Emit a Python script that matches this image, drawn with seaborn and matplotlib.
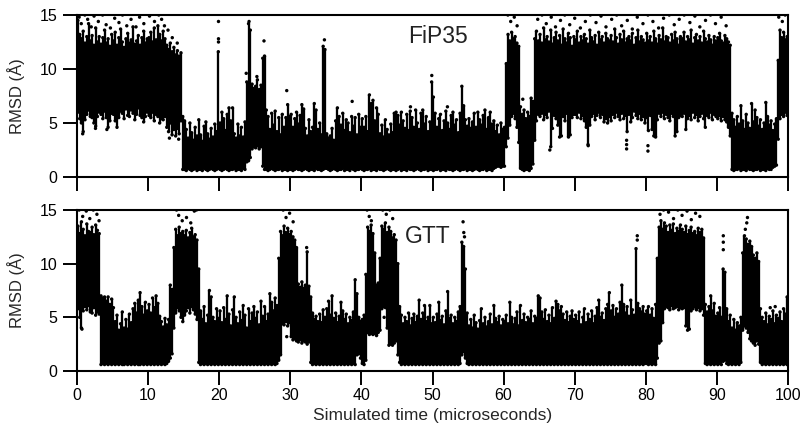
import numpy as np
import pandas as pd
import matplotlib
matplotlib.use("Agg")
import matplotlib.pyplot as plt
import seaborn as sns

# ---------------- data (0.25 us bins) ----------------
BIN_US = 0.25
X_TICKS = [0, 10, 20, 30, 40, 50, 60, 70, 80, 90, 100]
Y_TICKS = [0, 5, 10, 15]
PANEL_LABELS = ["FiP35", "GTT"]

# FiP35: upper and lower envelope of the dense cloud per bin
fip_hi = [
    14.5, 13.2, 12.8, 13.5, 12.4, 13.0, 14.2, 12.6, 13.1, 12.2, 13.8, 12.5, 13.0, 12.3, 12.9, 13.6, 12.4, 12.8, 12.1, 13.2,
    12.6, 13.4, 12.2, 12.9, 13.7, 12.5, 12.0, 12.8, 13.3, 12.4, 12.7, 13.9, 12.3, 12.6, 13.1, 12.2, 12.9, 13.5, 12.4, 12.8,
    12.9, 13.4, 12.5, 13.8, 12.7, 14.0, 13.2, 12.6, 13.5, 12.8, 12.2, 11.8, 12.4, 11.6, 12.0, 11.3, 11.7, 11.2, 11.5, 5.6,
    5.2, 4.4, 3.6, 5.0, 4.1, 3.4, 4.6, 3.8, 5.3, 3.9, 3.3, 4.7, 5.1, 4.0, 3.5, 4.5, 3.7, 4.9, 4.2, 11.6,
    5.0, 6.0, 5.4, 4.3, 5.8, 6.4, 5.2, 6.4, 4.0, 3.6, 4.9, 3.8, 4.6, 3.7, 5.1, 8.8, 14.2, 13.6, 8.6, 8.2,
    8.4, 9.0, 8.1, 8.5, 11.0, 11.2, 6.2, 5.6, 4.4, 5.9, 4.8, 6.1, 4.2, 5.5, 3.9, 5.8, 4.6, 5.5, 6.7, 5.6,
    5.8, 4.6, 5.4, 6.0, 4.9, 5.7, 6.7, 6.3, 4.5, 3.8, 5.3, 4.2, 4.6, 6.8, 6.2, 4.4, 5.0, 3.9, 12.1, 11.8,
    4.0, 3.6, 3.8, 4.5, 3.4, 5.2, 6.4, 5.6, 4.8, 5.9, 4.3, 5.3, 5.0, 4.1, 5.6, 4.7, 5.5, 3.9, 5.8, 4.6,
    5.4, 4.6, 5.6, 4.2, 7.6, 6.8, 7.1, 5.2, 6.4, 5.8, 4.0, 4.8, 3.7, 5.3, 4.4, 3.9, 4.9, 4.1, 5.9, 6.0,
    5.7, 4.8, 6.0, 5.2, 4.5, 5.8, 4.3, 6.1, 5.5, 4.6, 6.2, 5.0, 4.4, 5.9, 6.2, 4.9, 5.6, 4.2, 5.1, 8.8,
    7.4, 5.9, 4.6, 5.4, 5.8, 4.3, 5.2, 6.1, 5.0, 4.4, 5.7, 6.0, 4.8, 5.3, 4.1, 5.9, 8.4, 6.6, 5.3, 4.7,
    5.4, 4.5, 5.1, 5.9, 4.6, 6.0, 5.3, 4.8, 5.7, 6.2, 4.4, 5.5, 6.0, 4.9, 5.2, 4.2, 4.8, 3.9, 5.0, 4.4,
    4.6, 10.5, 13.2, 12.6, 13.4, 12.8, 13.0, 12.4, 12.1, 6.5, 5.8, 6.2, 5.4, 6.0, 5.6, 7.3, 7.0, 12.8, 13.5, 12.6,
    13.2, 12.4, 13.8, 12.7, 13.0, 12.5, 13.6, 12.3, 12.9, 13.4, 12.6, 13.1, 12.2, 13.7, 12.8, 12.4, 13.3, 12.9, 12.1, 13.0,
    12.7, 13.5, 12.4, 13.0, 12.6, 13.2, 12.8, 12.3, 13.6, 12.9, 12.5, 13.1, 12.2, 13.4, 12.7, 13.0, 12.4, 13.3, 12.8, 12.6,
    13.1, 12.5, 13.7, 12.9, 12.3, 13.2, 12.7, 13.5, 12.4, 12.8, 13.0, 12.6, 13.3, 12.2, 12.9, 13.6, 12.5, 13.0, 12.7, 12.4,
    13.3, 12.6, 13.0, 12.4, 13.5, 12.8, 12.3, 13.1, 12.7, 13.8, 12.5, 13.0, 12.9, 12.4, 13.2, 12.6, 13.4, 12.8, 12.2, 13.0,
    12.8, 13.4, 12.5, 13.0, 12.7, 13.6, 12.3, 12.9, 13.2, 12.6, 13.0, 12.4, 13.5, 12.8, 12.5, 13.1, 12.7, 12.2, 13.0, 12.6,
    12.9, 13.3, 12.6, 12.4, 13.1, 12.8, 12.5, 12.2, 5.9, 5.3, 4.6, 5.6, 4.9, 6.6, 5.2, 4.4, 5.8, 5.0, 4.5, 6.8,
    5.1, 6.2, 5.5, 4.7, 5.3, 4.4, 5.0, 6.9, 5.6, 4.8, 5.2, 4.3, 4.9, 5.4, 10.8, 13.6, 12.9, 13.4, 12.7, 13.0,
]
fip_lo = [
    6.0, 5.4, 5.0, 4.2, 5.3, 5.8, 6.2, 5.6, 5.5, 5.0, 4.7, 5.6, 6.0, 5.8, 5.4, 6.1, 5.5, 4.6, 5.2, 5.9,
    5.8, 5.2, 4.6, 5.5, 6.1, 5.9, 5.4, 6.3, 5.7, 5.6, 6.2, 5.9, 5.3, 5.8, 6.4, 5.7, 5.5, 5.1, 5.6, 6.0,
    5.7, 5.5, 6.0, 5.2, 5.8, 5.6, 5.0, 5.4, 5.3, 5.6, 4.6, 4.2, 5.0, 3.9, 4.4, 3.8, 4.5, 4.0, 5.2, 0.7,
    0.7, 0.6, 0.8, 0.7, 0.6, 0.7, 0.8, 0.6, 0.7, 0.7, 0.6, 0.8, 0.7, 0.6, 0.7, 0.8, 0.7, 0.6, 0.7, 0.8,
    0.7, 0.6, 0.7, 0.8, 0.7, 0.6, 0.7, 0.7, 0.8, 0.6, 0.7, 0.7, 0.6, 0.8, 0.7, 1.4, 1.5, 1.8, 2.6, 2.8,
    2.7, 2.9, 2.6, 2.8, 1.0, 0.7, 0.7, 0.6, 0.7, 0.8, 0.7, 0.6, 0.7, 0.7, 0.8, 0.6, 0.7, 0.7, 0.6, 0.7,
    0.7, 0.6, 0.7, 0.8, 0.7, 0.7, 0.6, 0.7, 0.8, 0.7, 0.6, 0.7, 0.7, 0.6, 0.8, 0.7, 0.7, 0.6, 0.7, 0.8,
    0.8, 0.7, 0.6, 0.7, 0.8, 0.7, 0.6, 0.7, 0.7, 0.8, 0.6, 0.7, 0.7, 0.6, 0.8, 0.7, 0.6, 0.7, 0.7, 0.8,
    0.7, 0.6, 0.7, 0.7, 0.8, 0.6, 0.7, 0.7, 0.6, 0.8, 0.7, 0.7, 0.6, 0.7, 0.8, 0.7, 0.6, 0.7, 0.7, 0.6,
    0.7, 0.8, 0.6, 0.7, 0.7, 0.6, 0.8, 0.7, 0.7, 0.6, 0.7, 0.8, 0.7, 0.6, 0.7, 0.7, 0.8, 0.6, 0.7, 0.7,
    0.6, 0.7, 0.7, 0.8, 0.6, 0.7, 0.7, 0.6, 0.8, 0.7, 0.7, 0.6, 0.7, 0.8, 0.7, 0.6, 0.7, 0.7, 0.8, 0.6,
    0.7, 0.7, 0.6, 0.7, 0.8, 0.7, 0.6, 0.7, 0.7, 0.8, 0.6, 0.7, 0.7, 0.6, 0.8, 0.9, 1.0, 1.0, 0.9, 1.0,
    1.0, 2.8, 3.6, 4.8, 5.6, 5.9, 5.4, 4.6, 3.2, 0.8, 0.7, 0.6, 0.7, 0.7, 0.6, 0.8, 1.2, 3.4, 5.2, 5.8,
    5.6, 5.9, 5.3, 5.8, 5.5, 6.1, 2.8, 4.5, 5.7, 5.4, 4.8, 3.7, 3.8, 5.6, 5.2, 5.9, 3.7, 3.9, 5.5, 5.8,
    5.8, 5.5, 6.0, 5.4, 5.7, 5.2, 4.6, 3.0, 4.8, 5.6, 5.9, 5.3, 5.7, 6.0, 5.5, 5.8, 5.1, 5.4, 5.0, 5.6,
    5.2, 5.8, 5.5, 6.0, 5.6, 5.3, 5.9, 5.4, 5.7, 4.2, 5.8, 5.1, 5.5, 6.1, 5.7, 5.4, 5.9, 5.3, 5.6, 5.0,
    5.5, 4.3, 5.7, 4.4, 3.8, 3.7, 5.3, 5.9, 5.6, 6.0, 5.4, 5.8, 5.5, 5.2, 5.9, 5.6, 3.8, 4.2, 5.5, 5.7,
    5.6, 5.9, 4.4, 5.4, 5.7, 5.3, 6.0, 5.5, 5.8, 5.2, 5.6, 5.9, 5.4, 4.6, 5.7, 5.5, 6.0, 5.3, 5.8, 5.6,
    5.4, 5.7, 5.2, 5.6, 5.3, 5.1, 4.6, 3.8, 0.7, 0.6, 0.7, 0.7, 0.8, 0.6, 0.7, 0.7, 0.6, 0.8, 0.7, 0.7,
    0.6, 0.7, 0.7, 0.8, 0.6, 0.7, 0.7, 0.6, 0.8, 0.7, 0.7, 0.9, 1.0, 1.1, 3.5, 5.4, 5.8, 5.6, 6.0, 5.7,
]
# FiP35 isolated points outside the dense cloud
fip_dot_t = [0.3, 0.6, 1.1, 1.5, 2.0, 2.4, 3.0, 3.6, 4.1, 4.7, 5.3, 5.9, 6.4, 7.0, 7.6, 8.3, 8.8, 9.4,
             10.2, 10.9, 11.5, 11.9, 12.3, 12.8, 13.4, 14.1, 0.8, 2.6, 4.2, 13.0, 14.3,
             19.9, 19.9, 19.9, 24.2, 23.8, 25.3, 26.3, 29.5, 34.8, 46.9, 52.1, 38.7, 49.9,
             60.6, 61.0, 61.5, 61.9, 62.7,
             64.8, 65.4, 66.0, 66.7, 67.3, 68.0, 68.6, 69.3, 70.0, 70.8, 71.5, 72.2, 73.0, 73.7, 74.4,
             75.2, 75.9, 76.6, 77.4, 78.1, 78.8, 79.6, 80.3, 81.0, 81.8, 82.5, 83.3, 84.0, 84.7, 85.4,
             86.2, 86.9, 87.6, 88.4, 89.1, 89.8, 90.6, 91.3,
             66.5, 77.3, 77.3, 77.3, 80.3, 80.3, 71.9, 98.7, 99.2, 99.6]
fip_dot_v = [14.8, 14.2, 15.0, 14.6, 13.9, 14.9, 14.4, 15.0, 14.1, 13.8, 14.7, 14.3, 15.0, 14.0, 14.6, 13.9, 14.8, 14.2,
             14.9, 14.4, 15.0, 14.6, 14.0, 13.6, 12.9, 12.4, 4.0, 4.5, 4.4, 3.6, 3.5,
             12.5, 12.8, 14.4, 14.4, 9.6, 9.3, 12.6, 8.0, 12.7, 6.5, 6.5, 7.0, 9.4,
             15.0, 14.4, 14.8, 14.0, 7.2,
             14.6, 15.0, 14.2, 14.8, 13.9, 14.5, 15.0, 14.1, 14.7, 13.8, 14.4, 15.0, 14.3, 14.9, 13.9,
             14.6, 15.0, 14.0, 14.5, 13.7, 14.8, 14.2, 15.0, 14.4, 13.8, 14.7, 15.0, 14.1, 14.6, 15.0,
             14.3, 14.9, 13.9, 14.5, 15.0, 14.2, 14.8, 14.0,
             2.5, 2.6, 3.0, 3.4, 2.4, 2.9, 2.9, 14.8, 14.4, 15.0]

# GTT
gtt_hi = [
    13.5, 12.8, 13.9, 13.2, 12.6, 13.7, 13.0, 12.9, 13.4, 12.7, 13.6, 13.1, 12.8, 7.0, 6.8, 6.9, 6.5, 6.9, 6.2, 6.7,
    5.9, 4.6, 5.2, 3.8, 4.4, 5.5, 4.0, 4.8, 3.9, 5.3, 4.5, 5.8, 6.3, 5.4, 6.6, 7.3, 6.0, 5.2, 6.4, 5.6,
    6.2, 5.4, 6.8, 5.9, 7.0, 6.3, 5.1, 4.6, 4.1, 4.9, 4.3, 4.8, 8.0, 7.6, 11.5, 13.2, 12.6, 13.4, 12.8, 13.0,
    12.6, 13.1, 12.4, 12.9, 13.3, 12.5, 12.7, 12.2, 9.5, 5.6, 4.8, 6.0, 4.4, 5.2, 7.5, 6.9, 5.0, 4.6, 5.8, 4.9,
    5.6, 4.5, 5.9, 4.8, 7.0, 5.3, 4.2, 5.7, 6.9, 5.0, 4.4, 5.5, 4.7, 6.1, 5.2, 4.0, 5.8, 4.6, 5.4, 6.0,
    4.9, 5.5, 4.3, 6.5, 5.1, 6.0, 4.6, 5.3, 7.2, 6.4, 5.6, 6.8, 6.1, 10.5, 13.0, 12.6, 13.5, 12.9, 13.3, 12.7,
    13.0, 12.5, 12.2, 11.5, 8.1, 7.8, 8.3, 7.7, 8.0, 11.1, 7.9, 6.9, 5.4, 4.8, 5.1, 4.6, 5.3, 4.5, 5.7, 5.0,
    5.8, 6.5, 5.2, 7.0, 4.9, 5.4, 4.5, 5.1, 6.4, 5.6, 4.8, 5.3, 4.4, 5.0, 4.7, 5.5, 8.5, 7.2, 5.0, 4.6,
    4.8, 5.2, 9.0, 13.4, 13.0, 13.6, 12.8, 11.0, 8.0, 8.2, 10.5, 13.5, 13.2, 13.8, 12.9, 13.4, 13.0, 12.4, 12.7, 12.2,
    10.0, 6.0, 5.2, 4.4, 5.0, 4.6, 5.4, 4.2, 4.9, 5.3, 4.5, 5.1, 6.6, 4.8, 5.4, 6.1, 4.6, 5.0, 6.1, 4.4,
    5.0, 4.5, 5.3, 6.4, 4.7, 5.1, 4.3, 5.6, 7.4, 4.9, 5.2, 4.4, 5.0, 4.6, 5.5, 6.0, 12.0, 11.6, 9.5, 5.4,
    4.2, 4.8, 4.0, 5.2, 4.5, 3.9, 4.7, 5.8, 4.4, 5.0, 4.1, 4.6, 5.3, 4.3, 6.1, 4.9, 4.5, 5.1, 4.2, 4.8,
    4.6, 5.2, 4.4, 6.4, 5.0, 4.3, 4.9, 5.5, 4.2, 6.1, 4.7, 5.3, 4.5, 5.0, 4.8, 5.6, 4.4, 5.1, 4.9, 7.0,
    6.8, 5.5, 4.8, 5.7, 4.6, 5.2, 4.4, 5.9, 4.9, 6.5, 6.2, 5.6, 6.0, 5.3, 4.7, 5.5, 4.5, 5.1, 5.6, 4.8,
    5.2, 4.6, 5.5, 4.3, 5.0, 5.8, 4.5, 5.3, 4.8, 5.6, 4.4, 5.1, 5.9, 6.6, 5.0, 5.4, 4.7, 5.8, 6.2, 7.3,
    5.6, 6.1, 5.0, 5.8, 5.3, 6.4, 8.0, 6.2, 5.4, 6.0, 5.1, 6.6, 5.7, 5.2, 11.4, 6.3, 5.8, 5.5, 6.0, 5.3,
    5.6, 6.0, 5.2, 5.8, 4.9, 6.2, 10.5, 13.4, 14.0, 13.2, 13.8, 13.5, 12.9, 13.6, 13.1, 13.7, 12.8, 13.3, 13.0, 13.6,
    13.2, 12.9, 13.5, 12.7, 13.1, 13.4, 12.8, 13.0, 12.6, 13.3, 12.9, 13.2, 12.4, 6.2, 5.5, 6.0, 7.0, 5.6, 6.3, 5.1,
    5.4, 5.9, 5.0, 9.5, 9.2, 5.8, 4.6, 5.2, 4.0, 4.8, 3.8, 4.5, 4.2, 5.0, 11.0, 12.6, 12.3, 11.8, 12.1, 11.6,
    10.8, 10.5, 11.0, 10.2, 5.8, 5.0, 4.6, 5.4, 4.3, 5.1, 4.8, 5.6, 4.4, 5.2, 4.9, 5.5, 4.6, 5.8, 5.3, 6.9,
]
gtt_lo = [
    5.8, 5.0, 4.0, 5.6, 6.0, 5.7, 6.1, 5.5, 5.4, 5.9, 5.2, 5.5, 5.3, 0.6, 0.7, 0.6, 0.7, 0.6, 0.7, 0.6,
    0.7, 0.6, 0.7, 0.6, 0.7, 0.6, 0.6, 0.7, 0.6, 0.7, 0.6, 0.7, 0.6, 0.7, 0.6, 0.6, 0.7, 0.6, 0.7, 0.6,
    0.7, 0.6, 0.7, 0.6, 0.7, 0.6, 0.7, 0.6, 0.7, 0.6, 0.7, 0.9, 1.2, 1.6, 4.0, 5.4, 5.9, 5.6, 5.0, 4.6,
    5.2, 5.6, 5.9, 5.4, 6.0, 5.7, 5.3, 4.8, 0.8, 0.6, 0.7, 0.6, 0.7, 0.6, 0.7, 0.6, 0.7, 0.6, 0.7, 0.6,
    0.7, 0.6, 0.7, 0.6, 0.7, 0.6, 0.7, 0.6, 0.7, 0.6, 0.7, 0.6, 0.7, 0.6, 0.7, 0.6, 0.7, 0.6, 0.7, 0.6,
    0.7, 0.6, 0.7, 0.6, 0.7, 0.6, 0.7, 0.6, 0.7, 0.6, 0.7, 0.6, 0.7, 1.0, 1.5, 4.4, 4.3, 4.6, 4.2, 4.5,
    3.2, 2.9, 3.0, 2.8, 2.7, 2.9, 2.6, 2.8, 2.7, 2.5, 2.7, 0.8, 0.6, 0.7, 0.6, 0.7, 0.6, 0.7, 0.6, 0.7,
    0.6, 0.7, 0.6, 0.7, 0.6, 0.7, 0.6, 0.7, 0.6, 0.7, 0.6, 0.7, 0.6, 0.7, 0.6, 0.7, 0.6, 1.5, 1.6, 1.2,
    0.7, 0.6, 1.0, 3.6, 3.4, 3.5, 3.4, 3.5, 3.3, 3.6, 3.8, 5.8, 6.0, 5.9, 4.0, 2.4, 2.5, 2.4, 2.6, 2.8,
    1.5, 0.8, 0.6, 0.7, 0.6, 0.7, 0.6, 0.7, 0.6, 0.7, 0.6, 0.7, 0.6, 0.7, 0.6, 0.7, 0.6, 0.7, 0.6, 0.7,
    0.6, 0.7, 0.6, 0.7, 0.6, 0.7, 0.6, 0.7, 0.6, 0.7, 0.6, 0.7, 0.6, 0.7, 0.6, 0.7, 1.5, 1.8, 1.2, 0.7,
    0.6, 0.7, 0.6, 0.7, 0.6, 0.7, 0.6, 0.7, 0.6, 0.7, 0.6, 0.7, 0.6, 0.7, 0.6, 0.7, 0.6, 0.7, 0.6, 0.7,
    0.6, 0.7, 0.6, 0.7, 0.6, 0.7, 0.6, 0.7, 0.6, 0.7, 0.6, 0.7, 0.6, 0.7, 0.6, 0.7, 0.6, 0.7, 0.6, 0.7,
    0.6, 0.7, 0.6, 0.7, 0.6, 0.7, 0.6, 0.7, 0.6, 0.7, 0.6, 0.7, 0.6, 0.7, 0.6, 0.7, 0.6, 0.7, 0.6, 0.7,
    0.6, 0.7, 0.6, 0.7, 0.6, 0.7, 0.6, 0.7, 0.6, 0.7, 0.6, 0.7, 0.6, 0.7, 0.6, 0.7, 0.6, 0.7, 0.6, 0.7,
    0.6, 0.7, 0.6, 0.7, 0.6, 0.7, 0.6, 0.7, 0.6, 0.7, 0.6, 0.7, 0.6, 0.7, 0.6, 0.7, 0.6, 0.7, 0.6, 0.7,
    0.7, 0.6, 0.7, 0.6, 0.7, 0.6, 1.2, 2.6, 2.8, 4.5, 5.8, 6.0, 5.9, 5.7, 6.1, 5.8, 5.9, 6.0, 5.7, 5.9,
    5.8, 5.9, 4.2, 3.8, 3.9, 5.6, 5.8, 6.0, 5.7, 5.9, 5.6, 5.8, 5.2, 0.7, 0.6, 0.7, 0.6, 0.7, 0.6, 0.7,
    0.6, 0.7, 0.6, 0.9, 1.0, 0.7, 0.6, 0.7, 0.6, 0.7, 0.6, 0.7, 0.6, 0.8, 3.8, 4.2, 4.0, 3.6, 3.0, 2.8,
    2.6, 2.4, 2.8, 2.5, 0.8, 0.6, 0.7, 0.6, 0.7, 0.6, 0.7, 0.6, 0.7, 0.6, 0.7, 0.6, 0.7, 0.6, 0.7, 0.6,
]
gtt_dot_t = [0.3, 0.8, 1.3, 1.8, 2.3, 2.8, 3.1, 0.7,
             14.0, 14.3, 14.8, 15.4, 16.0, 16.5, 16.8,
             29.0, 29.4, 29.9, 30.4, 29.5, 32.3,
             40.8, 41.1, 41.4, 43.0, 43.5, 44.0, 44.4, 43.2,
             54.3, 54.4, 54.5, 78.8, 78.8,
             82.0, 82.5, 83.2, 83.9, 84.5, 85.1, 85.8, 86.4, 87.0, 87.6,
             90.9, 90.9, 90.9, 94.3, 94.2, 94.0, 97.5, 98.2]
gtt_dot_v = [15.0, 14.4, 14.9, 14.2, 15.0, 14.6, 14.0, 3.9,
             15.0, 14.5, 14.0, 14.3, 13.8, 14.9, 15.0,
             15.0, 14.3, 14.7, 13.9, 3.2, 11.5,
             15.0, 14.4, 14.0, 15.0, 14.6, 15.0, 14.2, 5.0,
             13.9, 12.9, 12.5, 12.6, 12.2,
             14.6, 15.0, 14.8, 14.2, 15.0, 14.5, 14.9, 14.1, 14.7, 14.4,
             11.3, 12.0, 12.6, 14.3, 13.8, 13.2, 5.9, 6.0]

# ---------------- figure ----------------
sns.set_theme(style="ticks")
plt.rcParams["font.family"] = ["Liberation Sans", "DejaVu Sans"]

W, H = 804, 436
fig = plt.figure(figsize=(W / 100, H / 100), dpi=100)
ax_top = fig.add_axes([77 / W, 1 - 177 / H, (788 - 77) / W, (177 - 15) / H])
ax_bot = fig.add_axes([77 / W, 1 - 371 / H, (788 - 77) / W, (371 - 210) / H])


def draw_panel(ax, hi, lo, dot_t, dot_v, label, label_xy):
    n = len(hi)
    t = (np.arange(n) + 0.5) * BIN_US
    df = pd.DataFrame({"t": t, "hi": hi, "lo": lo})
    ax.vlines(df["t"], df["lo"], df["hi"], color="black", lw=1.65)
    edge = pd.DataFrame({"t": np.r_[df["t"], df["t"]], "v": np.r_[df["hi"], df["lo"]]})
    sns.scatterplot(data=edge, x="t", y="v", ax=ax, s=6, color="black",
                    edgecolor="none", legend=False)
    dots = pd.DataFrame({"t": dot_t, "v": dot_v})
    sns.scatterplot(data=dots, x="t", y="v", ax=ax, s=6, color="black",
                    edgecolor="none", legend=False)
    ax.set_xlim(0, 100)
    ax.set_ylim(0, 15)
    ax.set_xticks(X_TICKS)
    ax.set_yticks(Y_TICKS)
    ax.set_ylabel("RMSD (Å)", fontsize=12)
    ax.set_xlabel("")
    for s in ax.spines.values():
        s.set_visible(True)
        s.set_linewidth(1.5)
        s.set_color("black")
    ax.tick_params(axis="both", direction="out", length=10, width=1.4,
                   colors="black", labelsize=11.5, top=False, right=False)
    ax.tick_params(axis="y", pad=4)
    ax.tick_params(axis="x", pad=2)
    ax.text(label_xy[0], label_xy[1], label, fontsize=16.5, ha="center", va="center",
            color="#222222", zorder=5)
    ax.yaxis.set_label_coords(-0.073, 0.5)


draw_panel(ax_top, fip_hi, fip_lo, fip_dot_t, fip_dot_v, PANEL_LABELS[0], (50.8, 13.0))
draw_panel(ax_bot, gtt_hi, gtt_lo, gtt_dot_t, gtt_dot_v, PANEL_LABELS[1], (49.3, 12.5))
ax_top.set_xticklabels([])
ax_bot.set_xlabel("Simulated time (microseconds)", fontsize=12.5, labelpad=4)

fig.savefig("out.png", dpi=100, facecolor="white")
